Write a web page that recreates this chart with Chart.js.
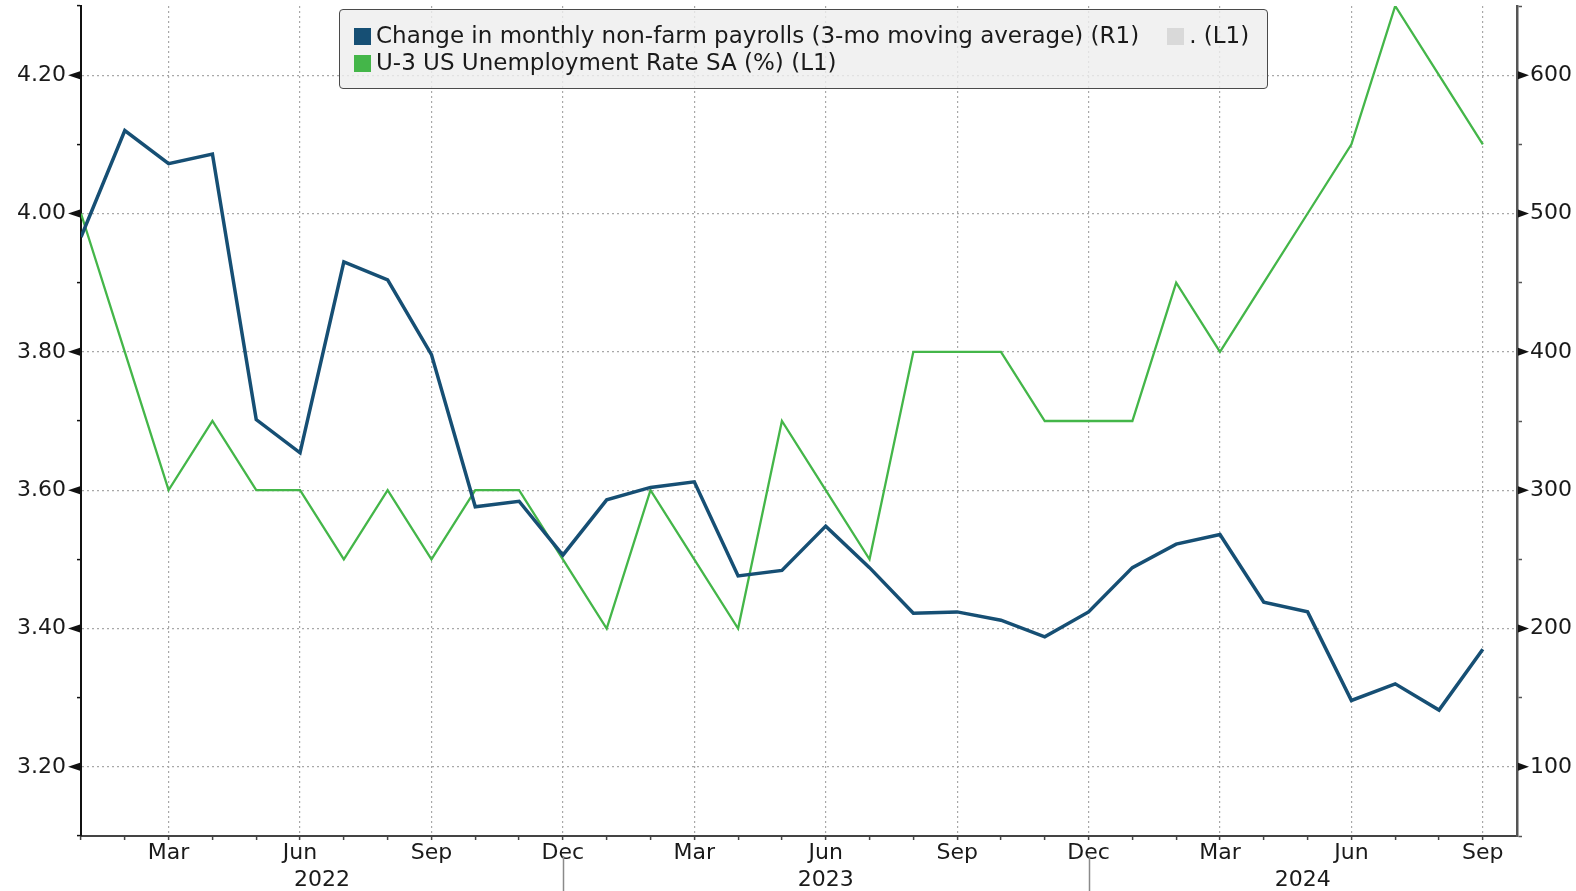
<!DOCTYPE html>
<html><head><meta charset="utf-8">
<script src="https://cdn.jsdelivr.net/npm/chart.js@4"></script>
<style>
html,body{margin:0;padding:0;background:#fff;}
#wrap{position:relative;width:1576px;height:891px;overflow:hidden;}
#legend{position:absolute;left:339px;top:9px;width:929px;height:80px;background:rgba(238,238,238,0.82);border:1.5px solid #4a4a4a;border-radius:4px;box-sizing:border-box;font-family:"DejaVu Sans",sans-serif;font-size:23px;color:#1a1a1a;}
.row{position:absolute;left:14px;height:27px;line-height:27px;white-space:nowrap;}
.sw{display:inline-block;width:17px;height:17px;margin-right:5px;vertical-align:-2px;}
</style></head>
<body><div id="wrap"><canvas id="c" width="1576" height="891"></canvas>
<div id="legend">
 <div class="row" style="top:12px;"><span class="sw" style="background:#164f74"></span><span id="l0"></span><span class="sw" style="background:#d9d9d9;margin-left:28px;"></span><span id="l2"></span></div>
 <div class="row" style="top:39px;"><span class="sw" style="background:#44b649"></span><span id="l1"></span></div>
</div></div>
<script>
const months = ['Jan 2022','Feb 2022','Mar 2022','Apr 2022','May 2022','Jun 2022','Jul 2022','Aug 2022','Sep 2022','Oct 2022','Nov 2022','Dec 2022',
 'Jan 2023','Feb 2023','Mar 2023','Apr 2023','May 2023','Jun 2023','Jul 2023','Aug 2023','Sep 2023','Oct 2023','Nov 2023','Dec 2023',
 'Jan 2024','Feb 2024','Mar 2024','Apr 2024','May 2024','Jun 2024','Jul 2024','Aug 2024','Sep 2024'];
const payrolls = [483,560,536,543,351,327,465,452,398,288,292,253,
 293,302,306,238,242,274,244,211,212,206,194,212,
 244,261,268,219,212,148,160,141,185];
const unemployment = [4.0,3.8,3.6,3.7,3.6,3.6,3.5,3.6,3.5,3.6,3.6,3.5,
 3.4,3.6,3.5,3.4,3.7,3.6,3.5,3.8,3.8,3.8,3.7,3.7,
 3.7,3.9,3.8,3.9,4.0,4.1,4.3,4.2,4.1];
const xTickIndex = [2,5,8,11,14,17,20,23,26,29,32];
const xTickLabels = ['Mar','Jun','Sep','Dec','Mar','Jun','Sep','Dec','Mar','Jun','Sep'];
const yearLabels = ['2022','2023','2024'];
const yearBreaks = [11,23];
const leftTicks = [3.2,3.4,3.6,3.8,4.0,4.2];
const leftLabels = ['3.20','3.40','3.60','3.80','4.00','4.20'];
const rightTicks = [100,200,300,400,500,600];
const rightLabels = ['100','200','300','400','500','600'];
const legendLabels = ['Change in monthly non-farm payrolls (3-mo moving average) (R1)','U-3 US Unemployment Rate SA (%) (L1)','. (L1)'];

document.getElementById('l0').textContent = legendLabels[0];
document.getElementById('l1').textContent = legendLabels[1];
document.getElementById('l2').textContent = legendLabels[2];

const FONT = {family:'"DejaVu Sans",sans-serif', size:22};
const TXT = '#1a1a1a';
const GRID = '#a8a8a8';
const X_MAX = 32.78;

function near(a,b){return Math.abs(a-b)<1e-6;}
function noPad(s){s.paddingTop=0;s.paddingBottom=0;s.paddingLeft=0;s.paddingRight=0;}

const decor = {
 id:'decor',
 afterDraw(chart){
  const {ctx, chartArea} = chart;
  const x = chart.scales.x, y = chart.scales.y, y1 = chart.scales.y1;
  ctx.save();
  ctx.fillStyle = '#111';
  leftTicks.forEach(v=>{
   const py = y.getPixelForValue(v);
   ctx.beginPath();
   ctx.moveTo(chartArea.left-1, py-4);
   ctx.lineTo(chartArea.left-1, py+4);
   ctx.lineTo(chartArea.left-13, py);
   ctx.closePath(); ctx.fill();
  });
  rightTicks.forEach(v=>{
   const py = y1.getPixelForValue(v);
   ctx.beginPath();
   ctx.moveTo(chartArea.right+1, py-4);
   ctx.lineTo(chartArea.right+1, py+4);
   ctx.lineTo(chartArea.right+12, py);
   ctx.closePath(); ctx.fill();
  });
  ctx.strokeStyle = '#8a8a8a'; ctx.lineWidth = 1.5;
  yearBreaks.forEach(b=>{
   const px = Math.round(x.getPixelForValue(b))+0.5;
   ctx.beginPath(); ctx.moveTo(px, chartArea.bottom+20); ctx.lineTo(px, 891); ctx.stroke();
  });
  const bounds = [0, ...yearBreaks, X_MAX];
  ctx.fillStyle = TXT; ctx.font = FONT.size+'px '+FONT.family;
  ctx.textAlign='center'; ctx.textBaseline='middle';
  yearLabels.forEach((t,i)=>{
   const cx = (x.getPixelForValue(bounds[i]) + x.getPixelForValue(bounds[i+1]))/2;
   ctx.fillText(t, cx, 880);
  });
  ctx.restore();
 }
};

new Chart(document.getElementById('c'), {
 type:'line',
 data:{datasets:[
  {label:legendLabels[0], data:payrolls.map((v,i)=>({x:i,y:v})), yAxisID:'y1', borderColor:'#164f74', borderWidth:3.5, pointRadius:0, tension:0, borderJoinStyle:'miter'},
  {label:legendLabels[1], data:unemployment.map((v,i)=>({x:i,y:v})), yAxisID:'y', borderColor:'#44b649', borderWidth:2.3, pointRadius:0, tension:0}
 ]},
 options:{
  responsive:false, animation:false, devicePixelRatio:1,
  layout:{padding:{top:6,left:0,right:0,bottom:0}},
  plugins:{legend:{display:false}, tooltip:{enabled:false}},
  scales:{
   x:{type:'linear', min:0, max:X_MAX,
    afterBuildTicks:s=>{s.ticks = months.map((m,i)=>({value:i}));},
    afterFit:s=>{s.height = 55; noPad(s);},
    ticks:{autoSkip:false, maxRotation:0, minRotation:0, padding:0, font:FONT, color:TXT,
     callback:v=>{const k=xTickIndex.indexOf(v); return k>=0?xTickLabels[k]:'';}},
    grid:{color:c=> (c.tick && xTickIndex.includes(c.tick.value)) ? GRID : 'rgba(0,0,0,0)', lineWidth:1.2,
     tickColor:'#444', tickLength:4, tickWidth:1.5},
    border:{display:true, color:'#444', width:2, dash:[2,3]}
   },
   y:{position:'left', min:3.1, max:4.3,
    afterBuildTicks:s=>{const t=[]; for(let k=31;k<=43;k++) t.push({value:k/10}); s.ticks=t;},
    afterFit:s=>{s.width = 81; noPad(s);},
    ticks:{padding:11, font:FONT, color:TXT,
     callback:v=>{const k=leftTicks.findIndex(t=>near(t,v)); return k>=0?leftLabels[k]:'';}},
    grid:{color:c=> (c.tick && leftTicks.some(t=>near(t,c.tick.value))) ? GRID : 'rgba(0,0,0,0)', lineWidth:1.2,
     tickColor:'#111', tickLength:4, tickWidth:1.5},
    border:{display:true, color:'#111', width:2, dash:[2,3]}
   },
   y1:{position:'right', min:50, max:650,
    afterBuildTicks:s=>{const t=[]; for(let v=50;v<=650;v+=50) t.push({value:v}); s.ticks=t;},
    afterFit:s=>{s.width = 59; noPad(s);},
    ticks:{padding:8, font:FONT, color:TXT,
     callback:v=>{const k=rightTicks.indexOf(v); return k>=0?rightLabels[k]:'';}},
    grid:{drawOnChartArea:false, color:'#555', tickColor:'#555', tickLength:5, tickWidth:1.5},
    border:{display:true, color:'#555', width:2.5}
   }
  }
 },
 plugins:[decor]
});
</script>
</body></html>
